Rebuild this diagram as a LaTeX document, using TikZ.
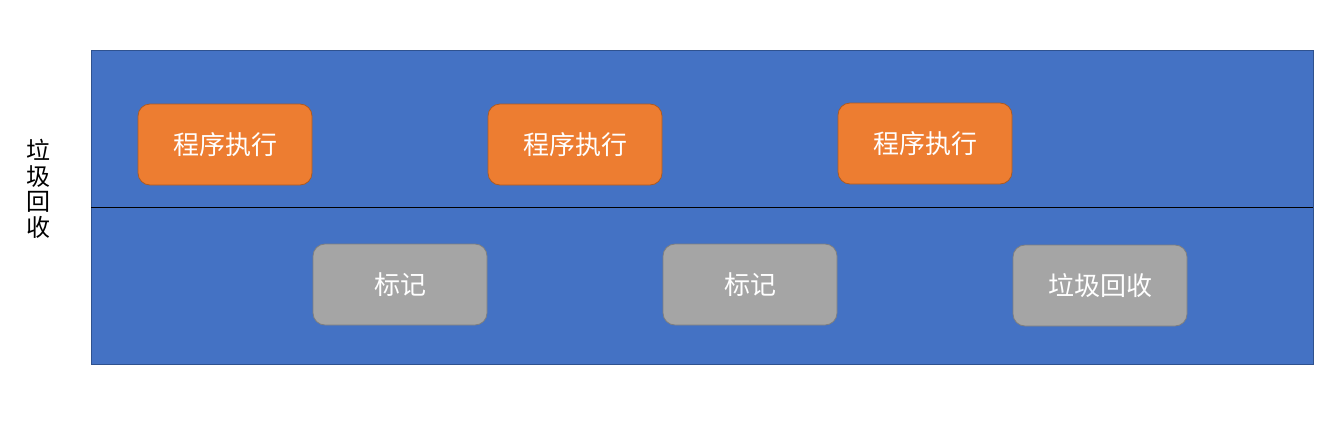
\documentclass[tikz,border=0pt]{standalone}
\usepackage{fontspec}
\newfontfamily\cjk{Noto Sans CJK SC}
\definecolor{bgblue}{HTML}{4472C4}
\definecolor{bgblueedge}{HTML}{2F528F}
\definecolor{org}{HTML}{ED7D31}
\definecolor{orgedge}{HTML}{AE5A21}
\definecolor{gry}{HTML}{A5A5A5}
\definecolor{gryedge}{HTML}{7F7F7F}
\tikzset{
  boxbase/.style={rounded corners=12pt, minimum width=174pt, minimum height=81pt, inner sep=0pt, text=white, font=\cjk\fontsize{26}{28}\selectfont, line width=0.8pt},
  runbox/.style={boxbase, fill=org, draw=orgedge},
  markbox/.style={boxbase, fill=gry, draw=gryedge},
}
\begin{document}
\begin{tikzpicture}[x=1pt,y=-1pt]
\useasboundingbox (0,0) rectangle (1329,442);
\draw[fill=bgblue, draw=bgblueedge, line width=0.8pt] (91,50) rectangle (1313,364);
\coordinate (dl) at (91,207);
\coordinate (dr) at (1313,207);
\draw[black, line width=0.9pt] (dl) -- (dr);
\node[anchor=center, align=center, font=\cjk\fontsize{24}{25.5}\selectfont] (label) at (38,189) {垃\\圾\\回\\收};
\node[runbox] (r1) at (225,144.5) {程序执行};
\node[runbox] (r2) at (575,144.5) {程序执行};
\node[runbox] (r3) at (925,143.5) {程序执行};
\node[markbox] (m1) at (400,284.5) {标记};
\node[markbox] (m2) at (750,284.5) {标记};
\node[markbox] (m3) at (1100,285.5) {垃圾回收};
\end{tikzpicture}
\end{document}
